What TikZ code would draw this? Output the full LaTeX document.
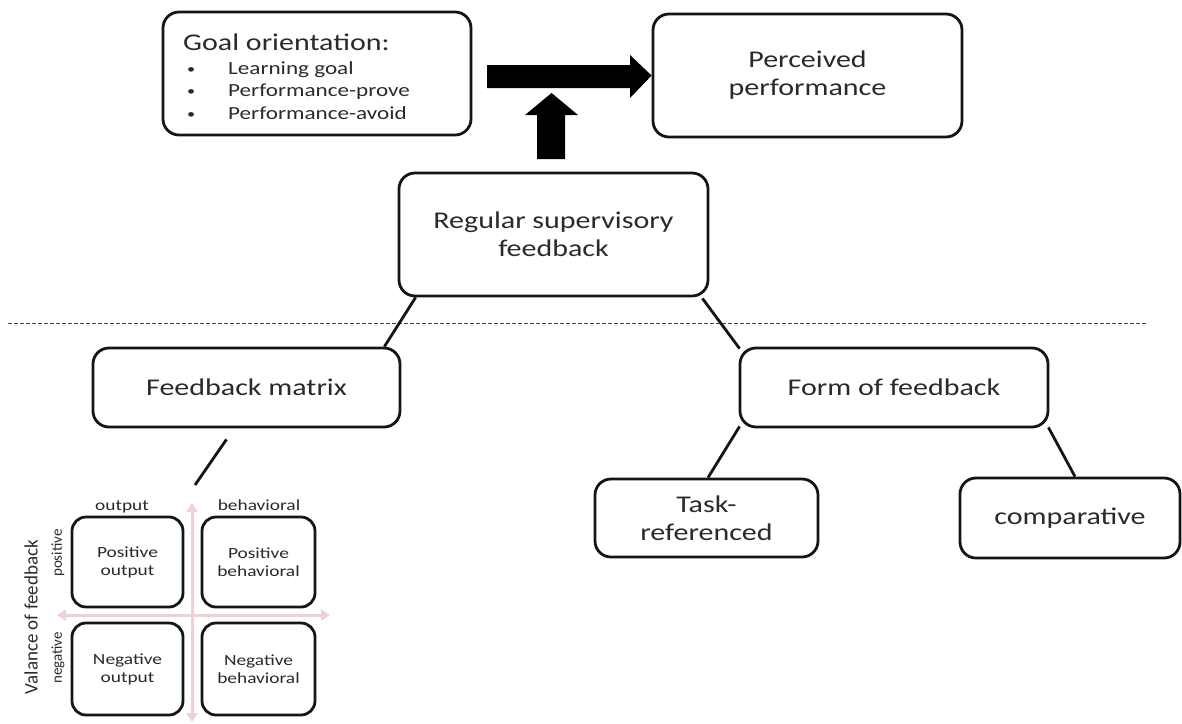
\documentclass[tikz,border=0pt]{standalone}
\usepackage{fontspec}
\setmainfont{Carlito}[FakeStretch=1.25]
\newfontfamily\rotfont{Carlito}
\usetikzlibrary{arrows.meta,calc}
\definecolor{txt}{HTML}{2a2a2a}
\definecolor{linec}{HTML}{151515}
\definecolor{pinkax}{RGB}{236,210,210}
\begin{document}
\begin{tikzpicture}[x=1pt,y=-1pt,
  box/.style={draw=linec, line width=2.8pt, fill=white, rounded corners=16pt, align=center,
    text=txt, font=\fontsize{24}{28}\selectfont, inner sep=0pt},
  mbox/.style={draw=linec, line width=2.8pt, fill=white, rounded corners=14pt, align=center,
    text=txt, font=\fontsize{15.5}{18}\selectfont, inner sep=0pt,
    minimum height=90pt},
  conn/.style={draw=linec, line width=2.8pt},
  blockarrow/.style={fill=black},
  axis/.style={draw=pinkax, line width=3pt, {Triangle[width=11pt,length=9pt]}-{Triangle[width=11pt,length=9pt]}},
  lab/.style={text=txt, font=\fontsize{15.5}{18}\selectfont, inner sep=0pt},
  rlab/.style={text=txt, font=\rotfont\fontsize{15}{18}\selectfont, inner sep=0pt, rotate=90},
  gtxt/.style={text=txt, inner sep=0pt, anchor=base west},
  gbul/.style={text=txt, inner sep=0pt, anchor=base west, font=\fontsize{13}{22}\selectfont},
]
\useasboundingbox (0,0) rectangle (1182,723);

% top boxes
\node[box, minimum width=308pt, minimum height=123pt] (goal) at (317,73.5) {};
\node[gtxt, font=\fontsize{24}{28}\selectfont] (g0) at (183,50) {Goal orientation:};
\node[gbul] (b1) at (187,73) {•};
\node[gbul] (b2) at (187,95.5) {•};
\node[gbul] (b3) at (187,118) {•};
\node[gtxt, font=\fontsize{18.5}{22}\selectfont] (g1) at (228,74) {Learning goal};
\node[gtxt, font=\fontsize{18.5}{22}\selectfont] (g2) at (228,96.5) {Performance-prove};
\node[gtxt, font=\fontsize{18.5}{22}\selectfont] (g3) at (228,119) {Performance-avoid};

\node[box, minimum width=309pt, minimum height=123pt] (perc) at (807.5,75.5) {Perceived\\performance};
\node[box, minimum width=309pt, minimum height=123pt] (reg) at (553.5,234.5) {Regular supervisory\\feedback};

% block arrows
\fill[blockarrow] (487,65) -- (630,65) -- (630,55) -- (perc.west) -- (630,98) -- (630,88) -- (487,88) -- cycle;
\fill[blockarrow] (537,159) -- (537,115) -- (525,115) -- (551.5,93) -- (578,115) -- (565,115) -- (565,159) -- cycle;

% dashed divider
\coordinate (dl) at (8,323);
\coordinate (dr) at (1147,323);
\draw[linec!80, line width=0.9pt, dash pattern=on 4pt off 2pt] (dl) -- (dr);

% second level
\node[box, minimum width=307pt, minimum height=79pt] (fm) at (246.5,387.5) {Feedback matrix};
\node[box, minimum width=308pt, minimum height=79pt] (form) at (894,387.5) {Form of feedback};
\node[box, minimum width=223pt, minimum height=78pt] (task) at (706.5,518) {Task-\\referenced};
\node[box, minimum width=220pt, minimum height=80pt] (comp) at (1070,518) {comparative};

\draw[conn] ([xshift=18pt]reg.south west) -- ([xshift=-17pt]fm.north east);
\draw[conn] ([xshift=-7pt,yshift=-1pt]reg.south east) -- ([xshift=1pt,yshift=-2pt]form.north west);
\draw[conn] ([xshift=1pt,yshift=2pt]form.south west) -- ([xshift=1.5pt]task.north);
\draw[conn] ([xshift=-1pt,yshift=1pt]form.south east) -- ([xshift=5pt]comp.north);

\coordinate (mtop) at (195,485);
\draw[conn] ([xshift=-20pt,yshift=-11pt]fm.south) -- (mtop);

% matrix
\coordinate (vt) at (192,503);
\coordinate (vb) at (192,722);
\coordinate (hl) at (57,615);
\coordinate (hr) at (330,615);
\draw[axis] (vt) -- (vb);
\draw[axis] (hl) -- (hr);

\node[mbox, minimum width=111pt] (po) at (127.5,562) {Positive\\output};
\node[mbox, minimum width=113pt] (pb) at (258.5,562) {Positive\\behavioral};
\node[mbox, minimum width=111pt, minimum height=92pt] (no) at (127.5,669) {Negative\\output};
\node[mbox, minimum width=113pt, minimum height=92pt] (nb) at (258.5,669) {Negative\\behavioral};

\node[lab, anchor=base] (lo) at (122,510) {output};
\node[lab, anchor=base] (lb) at (259,510) {behavioral};
\node[rlab] (lp) at (58,553) {positive};
\node[rlab] (ln) at (58,658) {negative};
\node[rlab, font=\rotfont\fontsize{19}{22}\selectfont] (lv) at (31,617) {Valance of feedback};
\end{tikzpicture}
\end{document}
